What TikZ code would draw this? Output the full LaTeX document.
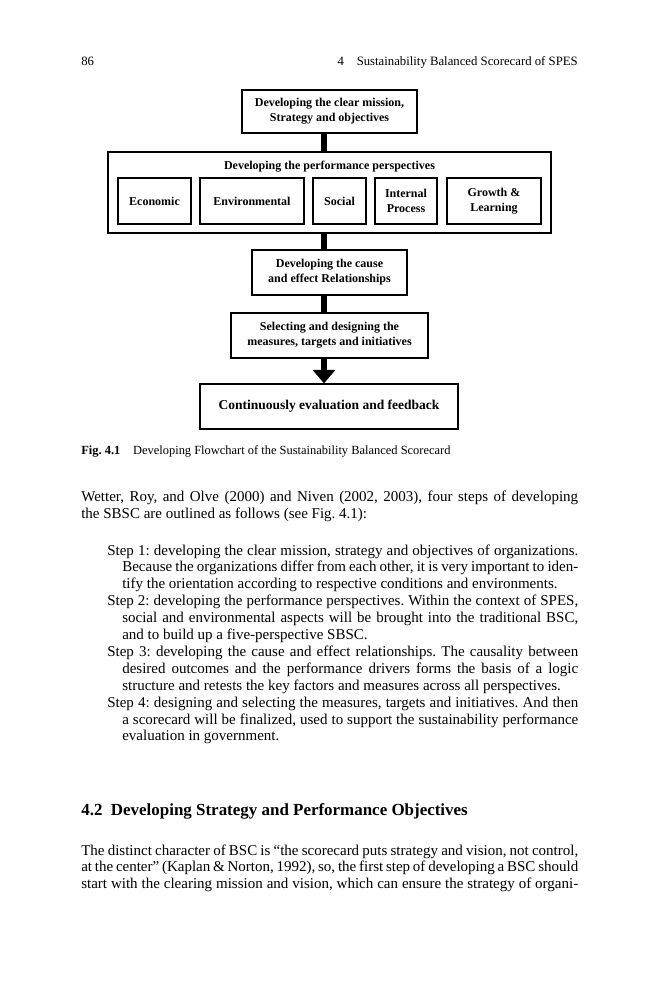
\documentclass[tikz,border=0pt]{standalone}
\usepackage{fontspec}
\setmainfont{Liberation Serif}
\usetikzlibrary{arrows.meta}
\frenchspacing
\newlength{\fullw}\setlength{\fullw}{331.3pt}
\newlength{\stepw}\setlength{\stepw}{314pt}
\newlength{\contw}\setlength{\contw}{304pt}
\tikzset{
  box/.style={draw, line width=0.8pt, align=center, inner sep=0pt,
    font=\bfseries\fontsize{8}{10}\selectfont},
  bar/.style={line width=4pt},
  textline/.style={anchor=base west, inner sep=0pt, font=\fontsize{10}{12}\selectfont},
}
\begin{document}
\begin{tikzpicture}[x=0.6667pt,y=-0.6667pt]
\fill[white] (0,0) rectangle (659,999);
\useasboundingbox (0,0) rectangle (659,999);
% running head
\node[anchor=base west, inner sep=0pt, font=\fontsize{8.5}{10}\selectfont] (folio) at (81,65) {86};
\node[anchor=base east, inner sep=0pt, font=\fontsize{8.5}{10}\selectfont] (runhead) at (578,65) {4\quad Sustainability Balanced Scorecard of SPES};
% flowchart
\node[box, minimum width=116.7pt, minimum height=28.7pt] (mission) at (329.5,111.5) {Developing the clear mission,\\Strategy and objectives};
\node[box, minimum width=295.3pt, minimum height=54pt] (persp) at (329.5,192.5) {};
\node[font=\bfseries\fontsize{8}{10}\selectfont, inner sep=0pt] (perspTitle) at (329.5,167) {Developing the performance perspectives};
\node[box, minimum width=48.7pt, minimum height=30.7pt] (econ) at (154.5,201) {Economic};
\node[box, minimum width=69.3pt, minimum height=30.7pt] (envir) at (252,201) {Environmental};
\node[box, minimum width=35.3pt, minimum height=30.7pt] (social) at (339.5,201) {Social};
\node[box, minimum width=41.3pt, minimum height=30.7pt] (internal) at (406,201) {Internal\\Process};
\node[box, minimum width=62.7pt, minimum height=30.7pt] (growth) at (494,201) {Growth \&\\Learning};
\node[box, minimum width=103.3pt, minimum height=30pt] (cause) at (329.5,272.5) {Developing the cause\\and effect Relationships};
\node[box, minimum width=131.3pt, minimum height=30pt] (select) at (329.5,335.5) {Selecting and designing the\\measures, targets and initiatives};
\node[box, minimum width=172pt, minimum height=30pt, font=\bfseries\fontsize{9}{11}\selectfont] (final) at (329,406.5) {Continuously evaluation and feedback};
\coordinate (axis) at (324,0);
\draw[bar] (mission.south -| axis) -- (persp.north -| axis);
\draw[bar] (persp.south -| axis) -- (cause.north -| axis);
\draw[bar] (cause.south -| axis) -- (select.north -| axis);
\draw[bar, -{Triangle[width=14.7pt,length=9pt]}] (select.south -| axis) -- (final.north -| axis);
\node[anchor=base west, inner sep=0pt, font=\fontsize{8.3}{10}\selectfont] (caption) at (81,454) {\textbf{Fig. 4.1}\hspace{8.5pt}Developing Flowchart of the Sustainability Balanced Scorecard};
% body text
\node[textline] (wetter) at (81,501) {\makebox[\fullw][s]{Wetter, Roy, and Olve (2000) and Niven (2002, 2003), four steps of developing}};
\node[textline] (sbsc) at (81,518) {the SBSC are outlined as follows (see Fig. 4.1):};
\node[textline] (stepA) at (107,555) {\makebox[\stepw][s]{Step 1: developing the clear mission, strategy and objectives of organizations.}};
\node[textline] (stepAb) at (122,571.9) {\makebox[\contw][s]{Because the organizations differ from each other, it is very important to iden-}};
\node[textline] (stepAc) at (122,588.8) {tify the orientation according to respective conditions and environments.};
\node[textline] (stepB) at (107,605.7) {\makebox[\stepw][s]{Step 2: developing the performance perspectives. Within the context of SPES,}};
\node[textline] (stepBb) at (122,622.6) {\makebox[\contw][s]{social and environmental aspects will be brought into the traditional BSC,}};
\node[textline] (stepBc) at (122,639.5) {and to build up a five-perspective SBSC.};
\node[textline] (stepC) at (107,656.4) {\makebox[\stepw][s]{Step 3: developing the cause and effect relationships. The causality between}};
\node[textline] (stepCb) at (122,673.3) {\makebox[\contw][s]{desired outcomes and the performance drivers forms the basis of a logic}};
\node[textline] (stepCc) at (122,690.2) {structure and retests the key factors and measures across all perspectives.};
\node[textline] (stepD) at (107,707.1) {\makebox[\stepw][s]{Step 4: designing and selecting the measures, targets and initiatives. And then}};
\node[textline] (stepDb) at (122,724) {\makebox[\contw][s]{a scorecard will be finalized, used to support the sustainability performance}};
\node[textline] (stepDc) at (122,740.9) {evaluation in government.};
\node[anchor=base west, inner sep=0pt, font=\bfseries\fontsize{11.3}{14}\selectfont] (section) at (81,815) {4.2\hspace{0.5em}Developing Strategy and Performance Objectives};
\node[textline] (distinct) at (81,855) {\makebox[\fullw][s]{The distinct character of BSC is “the scorecard puts strategy and vision, not control,}};
\node[textline] (center) at (81,871.8) {\makebox[\fullw][s]{at the center” (Kaplan \& Norton, 1992), so, the first step of developing a BSC should}};
\node[textline] (clearing) at (81,888.6) {\makebox[\fullw][s]{start with the clearing mission and vision, which can ensure the strategy of organi-}};
\end{tikzpicture}
\end{document}
